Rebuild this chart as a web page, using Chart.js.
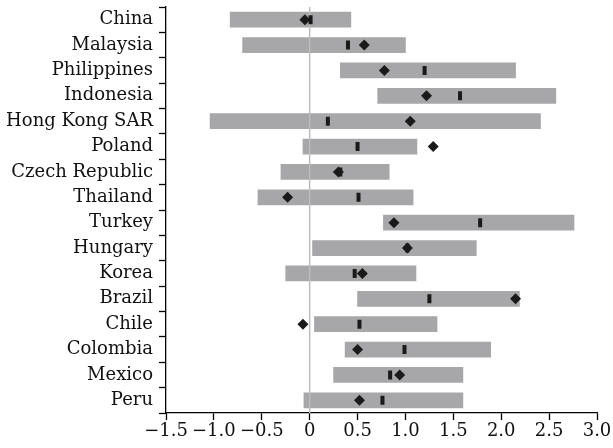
<!DOCTYPE html>
<html>
<head>
<meta charset="utf-8">
<script src="https://cdn.jsdelivr.net/npm/chart.js@4.4.1/dist/chart.umd.min.js"></script>
<style>
  html, body { margin: 0; padding: 0; background: #fff; }
  #wrap { width: 613px; height: 448px; }
</style>
</head>
<body>
<div id="wrap"><canvas id="chart"></canvas></div>
<script>
// categories, top to bottom
var countries = ["China", "Malaysia", "Philippines", "Indonesia", "Hong Kong SAR", "Poland",
  "Czech Republic", "Thailand", "Turkey", "Hungary", "Korea", "Brazil", "Chile",
  "Colombia", "Mexico", "Peru"];

// gray range bars (low, high)
var rangeLow  = [-0.83, -0.70, 0.32, 0.71, -1.04, -0.07, -0.30, -0.54, 0.77, 0.03, -0.25, 0.50, 0.05, 0.37, 0.25, -0.06];
var rangeHigh = [ 0.43,  1.00, 2.15, 2.57,  2.41,  1.12,  0.83,  1.08, 2.76, 1.74,  1.11, 2.19, 1.33, 1.89, 1.60,  1.60];

// diamond markers
var diamonds = [-0.05, 0.57, 0.78, 1.22, 1.05, 1.29, 0.30, -0.23, 0.88, 1.02, 0.55, 2.15, -0.07, 0.50, 0.94, 0.52];

// small dash markers
var dashes = [0.01, 0.40, 1.20, 1.57, 0.19, 0.50, 0.32, 0.51, 1.78, 1.02, 0.47, 1.25, 0.52, 0.99, 0.84, 0.76];

var xTicks = [-1.5, -1.0, -0.5, 0, 0.5, 1.0, 1.5, 2.0, 2.5, 3.0];

var serif = "'DejaVu Serif', 'Liberation Serif', serif";

var ranges = rangeLow.map(function(lo, i){ return [lo, rangeHigh[i]]; });

// light gray line at zero, drawn right over the bars
var zeroLine = {
  id: "zeroLine",
  afterDatasetDraw: function(chart, args){
    if (args.index !== 0) return;
    var ctx = chart.ctx;
    var x = chart.scales.x.getPixelForValue(0);
    ctx.save();
    ctx.strokeStyle = "#bdbdbd";
    ctx.lineWidth = 1.5;
    ctx.beginPath();
    ctx.moveTo(x, chart.chartArea.top);
    ctx.lineTo(x, chart.chartArea.bottom);
    ctx.stroke();
    ctx.restore();
  }
};

new Chart(document.getElementById("chart"), {
  type: "bar",
  data: {
    labels: countries,
    datasets: [
      {
        label: "range",
        data: ranges,
        backgroundColor: "#a7a7aa",
        borderWidth: 0,
        barThickness: 15,
        borderSkipped: false,
        order: 3
      },
      {
        type: "line",
        label: "dash",
        data: dashes,
        showLine: false,
        pointStyle: "line",
        rotation: 90,
        radius: 4.5,
        pointBorderWidth: 4,
        pointBorderColor: "#1a1a1a",
        order: 2
      },
      {
        type: "line",
        label: "diamond",
        data: diamonds,
        showLine: false,
        pointStyle: "rectRot",
        radius: 5.5,
        pointBackgroundColor: "#1a1a1a",
        pointBorderColor: "#1a1a1a",
        pointBorderWidth: 0,
        order: 1
      }
    ]
  },
  options: {
    indexAxis: "y",
    responsive: true,
    maintainAspectRatio: false,
    animation: false,
    layout: { autoPadding: false, padding: { top: 7, right: 16, bottom: 0, left: 0 } },
    plugins: {
      legend: { display: false },
      tooltip: { enabled: false }
    },
    scales: {
      x: {
        type: "linear",
        min: -1.5,
        max: 3.0,
        afterBuildTicks: function(axis){
          axis.ticks = xTicks.map(function(v){ return { value: v }; });
        },
        afterFit: function(axis){ axis.height = 35; },
        border: { display: true, color: "#000", width: 1.3 },
        grid: { drawOnChartArea: false, drawTicks: true, tickLength: 7, tickColor: "#000", tickWidth: 1.3 },
        ticks: {
          color: "#111",
          padding: 1,
          maxRotation: 0,
          autoSkip: false,
          font: { family: serif, size: 18 },
          callback: function(v){
            if (v === 0) return "0";
            return (v < 0 ? "\u2212" : "") + Math.abs(v).toFixed(1);
          }
        }
      },
      y: {
        offset: true,
        afterFit: function(axis){
          axis.width = 166;
          axis.paddingTop = 0;
          axis.paddingBottom = 0;
        },
        border: { display: true, color: "#000", width: 1.3 },
        grid: { offset: true, drawOnChartArea: false, drawTicks: true, tickLength: 7, tickColor: "#000", tickWidth: 1.3 },
        ticks: {
          color: "#111",
          padding: 6,
          autoSkip: false,
          font: { family: serif, size: 18 }
        }
      }
    }
  },
  plugins: [zeroLine]
});
</script>
</body>
</html>
